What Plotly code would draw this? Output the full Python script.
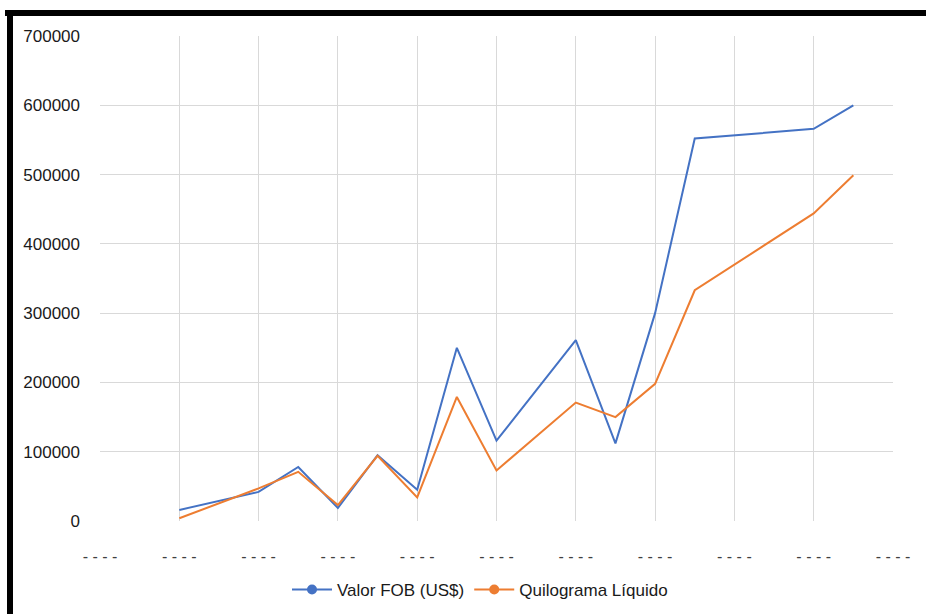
import plotly.graph_objects as go

# x positions (half-step units on a date-like axis); gridlines every 2 units
x_pos = [2, 4, 5, 6, 7, 8, 9, 10, 12, 13, 14, 15, 18, 19]
valor_fob = [16000, 42000, 78000, 19000, 95000, 45000, 250000, 116000,
             261000, 112000, 300000, 552000, 566000, 600000]
quilograma = [4000, 47000, 71000, 23000, 94000, 34000, 179000, 73000,
              171000, 150000, 198000, 333000, 444000, 499000]
tick_vals = [0, 2, 4, 6, 8, 10, 12, 14, 16, 18, 20]
tick_text = ["- - - -"] * len(tick_vals)
y_ticks = [0, 100000, 200000, 300000, 400000, 500000, 600000, 700000]

BLUE = "#4472C4"
ORANGE = "#ED7D31"
FONT = "Liberation Sans"

fig = go.Figure()
fig.add_trace(go.Scatter(x=x_pos, y=valor_fob, mode="lines",
                         line=dict(color=BLUE, width=2), showlegend=False))
fig.add_trace(go.Scatter(x=x_pos, y=quilograma, mode="lines",
                         line=dict(color=ORANGE, width=2), showlegend=False))
# legend entries
fig.add_trace(go.Scatter(x=[None], y=[None], mode="lines+markers", name="Valor FOB (US$)",
                         line=dict(color=BLUE, width=2), marker=dict(color=BLUE, size=10)))
fig.add_trace(go.Scatter(x=[None], y=[None], mode="lines+markers", name="Quilograma Líquido",
                         line=dict(color=ORANGE, width=2), marker=dict(color=ORANGE, size=10)))

W, H = 926, 614
L, R, T, B = 100, 893, 36, 521
def px(x):
    return (x - L) / (R - L)
def py(y):
    return (B - y) / (B - T)

fig.update_layout(
    width=W, height=H,
    margin=dict(l=L, r=W - R, t=T, b=H - B, autoexpand=False),
    paper_bgcolor="white", plot_bgcolor="white",
    font=dict(family=FONT, size=17, color="#1a1a1a"),
    xaxis=dict(range=[0, 20], tickvals=tick_vals, ticktext=tick_text,
               showgrid=True, gridcolor="#d9d9d9", gridwidth=1,
               zeroline=False, showline=False, ticks="", automargin=False,
               ticklabelstandoff=24, tickfont=dict(size=16, color="#404040")),
    yaxis=dict(range=[0, 700000], tickvals=y_ticks, ticktext=[str(v) for v in y_ticks],
               showgrid=True, gridcolor="#d9d9d9", gridwidth=1,
               zeroline=False, showline=False, ticks="", automargin=False,
               ticklabelstandoff=19, tickfont=dict(size=17, color="#1a1a1a")),
    legend=dict(orientation="h", x=px(480), xanchor="center", y=py(590), yanchor="middle",
                font=dict(size=17, color="#1a1a1a"), itemwidth=40, traceorder="normal"),
    shapes=[
        dict(type="line", xref="paper", yref="paper", x0=px(5), x1=px(930),
             y0=py(13), y1=py(13), line=dict(color="black", width=6)),
        dict(type="line", xref="paper", yref="paper", x0=px(10), x1=px(10),
             y0=py(10), y1=py(620), line=dict(color="black", width=6)),
    ],
)

fig.write_html("out.html", config={"displayModeBar": False},
               post_script="document.body.style.margin='0';document.body.style.overflow='hidden';")
